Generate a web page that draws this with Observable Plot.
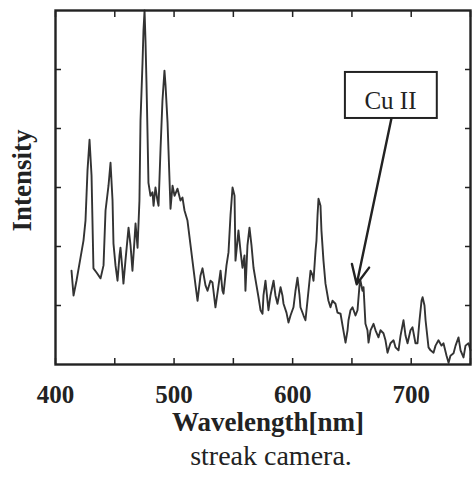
<!DOCTYPE html>
<html><head><meta charset="utf-8">
<script src="https://cdn.jsdelivr.net/npm/d3@7"></script>
<script src="https://cdn.jsdelivr.net/npm/@observablehq/plot@0.6"></script>
<style>
body{margin:0;background:#fff;}
#cap{font-family:"Liberation Serif","Times New Roman",serif;font-size:28px;line-height:28px;color:#222;text-align:center;width:474px;position:relative;left:34px;margin-top:2px;}
</style></head><body><div id="chart"></div><div id="cap">streak camera.</div>
<script>
const wavelength = [413.5,415.2,417.7,421.1,423.6,425.3,427.0,428.7,430.4,432.0,434.6,438.0,440.5,442.2,444.7,446.4,448.1,448.9,450.6,452.3,454.0,454.8,456.5,457.3,459.0,461.6,463.3,464.9,466.6,467.5,469.2,470.8,471.7,473.4,474.2,475.1,475.9,476.7,477.6,478.4,480.1,481.8,482.7,484.3,486.0,486.9,488.6,490.2,491.9,492.8,494.5,495.3,497.0,498.7,500.4,502.9,505.4,507.1,508.8,511.3,513.9,515.5,518.1,519.8,522.3,524.0,526.5,528.2,530.7,532.4,534.9,537.5,539.2,540.8,541.7,544.2,545.9,547.6,549.3,551.0,551.8,553.5,554.3,556.0,557.7,559.4,560.2,561.9,563.6,565.3,567.0,569.5,571.2,572.9,574.6,575.4,577.1,578.8,579.6,581.3,583.9,585.5,587.2,589.8,591.4,592.3,594.8,596.5,598.2,600.7,602.4,604.1,605.8,606.6,609.2,610.8,612.5,615.1,616.8,617.6,619.3,620.1,621.0,621.8,623.5,624.3,626.0,627.7,630.2,631.9,633.6,636.1,637.8,640.4,642.1,644.6,646.3,647.1,648.8,650.5,653.0,654.7,656.4,657.2,658.9,659.8,661.4,663.1,664.0,665.7,668.2,669.9,672.4,674.1,676.6,678.3,680.0,682.5,685.1,686.8,689.3,691.0,693.5,695.2,696.9,699.4,701.1,703.6,705.3,707.0,708.7,709.6,711.2,712.1,714.6,716.3,718.8,720.5,723.0,725.5,727.2,729.8,731.5,733.1,735.7,737.4,739.9,741.6,744.1,745.8,748.3,750.0];
const intensity = [1.59,1.17,1.42,1.81,2.10,2.44,3.29,3.81,3.20,1.63,1.56,1.46,1.68,2.61,3.03,3.42,2.78,2.05,1.68,1.42,1.85,1.98,1.59,1.37,1.76,2.32,2.02,1.59,2.10,2.39,1.98,2.78,4.14,5.12,5.66,6.0,5.49,4.81,3.93,3.08,2.86,2.92,2.69,3.00,2.78,2.69,3.66,4.47,4.98,4.73,4.10,3.63,2.64,3.03,2.86,2.98,2.78,2.83,2.61,2.44,2.02,1.76,1.34,1.08,1.51,1.63,1.34,1.25,1.42,1.39,0.97,1.34,1.59,1.25,1.20,1.68,1.90,2.53,3.00,2.86,1.76,2.10,2.27,1.93,1.64,1.85,1.25,2.02,2.32,2.02,1.64,1.34,1.14,0.92,0.86,1.17,1.42,1.08,0.92,1.17,1.42,1.17,1.03,1.31,1.17,1.03,0.88,0.71,0.83,0.97,1.25,1.47,1.17,0.97,0.83,0.75,1.08,1.59,1.51,1.42,1.93,2.10,2.53,2.81,2.69,2.27,1.76,1.37,1.08,0.97,1.08,1.03,0.88,0.86,0.66,0.37,0.58,0.75,0.92,0.97,0.83,0.92,1.34,1.42,1.25,1.31,0.69,0.58,0.37,0.58,0.69,0.58,0.46,0.58,0.53,0.41,0.20,0.36,0.41,0.29,0.24,0.49,0.75,0.49,0.36,0.58,0.63,0.36,0.36,0.75,1.08,1.14,1.00,0.75,0.29,0.24,0.20,0.32,0.41,0.32,0.36,0.15,0.03,0.15,0.19,0.32,0.46,0.24,0.12,0.32,0.36,0.24];
const xDomain = [400, 750];
const yDomain = [0, 6];
const xTickLabels = [400, 500, 600, 700];
const xTicks = [400, 450, 500, 550, 600, 650, 700, 750];
const yTicks = [1, 2, 3, 4, 5];
const xLabel = "Wavelength[nm]";
const yLabel = "Intensity";
const caption = "streak camera.";
const noteText = "Cu II";
const noteAt = [682.5, 4.47];
const noteBoxX = [644.5, 722];
const noteBoxY = [4.17, 4.95];
const arrowFrom = [683.3, 4.17];
const arrowTo = [654, 1.36];

const data = wavelength.map((w, i) => ({w, v: intensity[i]}));
const serif = "'Liberation Serif','Times New Roman',serif";
const ink = "#222";

const plot = Plot.plot({
  width: 474, height: 440,
  marginLeft: 55, marginRight: 4, marginTop: 10, marginBottom: 76,
  x: {domain: xDomain, label: null},
  y: {domain: yDomain, label: null},
  marks: [
    Plot.line(data, {x: "w", y: "v", stroke: "#333", strokeWidth: 1.9, curve: "linear"}),
    Plot.axisX(xTicks, {anchor: "bottom", tickSize: -6, tickFormat: () => "", stroke: ink, strokeWidth: 1.5, label: null}),
    Plot.axisX(xTicks, {anchor: "top", tickSize: -6, tickFormat: () => "", stroke: ink, strokeWidth: 1.5, label: null}),
    Plot.axisX(xTickLabels, {anchor: "bottom", tickSize: 0, tickPadding: 21, fontSize: 25, fontWeight: "bold", fontFamily: serif, fill: ink, label: null}),
    Plot.axisY(yTicks, {anchor: "left", tickSize: -6, tickFormat: () => "", stroke: ink, strokeWidth: 1.5, label: null}),
    Plot.axisY(yTicks, {anchor: "right", tickSize: -6, tickFormat: () => "", stroke: ink, strokeWidth: 1.5, label: null}),
    Plot.frame({stroke: ink, strokeWidth: 2.4}),
    Plot.rect([{x1: noteBoxX[0], x2: noteBoxX[1], y1: noteBoxY[0], y2: noteBoxY[1]}], {x1: "x1", x2: "x2", y1: "y1", y2: "y2", fill: "white", stroke: ink, strokeWidth: 2}),
    Plot.text([noteText], {x: noteAt[0], y: noteAt[1], text: d => d, fontSize: 25, fontFamily: serif, fill: ink}),
    Plot.arrow([{x1: arrowFrom[0], y1: arrowFrom[1], x2: arrowTo[0], y2: arrowTo[1]}], {x1: "x1", y1: "y1", x2: "x2", y2: "y2", stroke: ink, strokeWidth: 2.4, headLength: 13, headAngle: 50}),
    Plot.text([yLabel], {frameAnchor: "left", textAnchor: "middle", lineAnchor: "middle", text: d => d, rotate: -90, dx: -33, dy: -7, fontSize: 27, fontWeight: "bold", fontFamily: serif, fill: ink}),
    Plot.text([xLabel], {frameAnchor: "bottom", textAnchor: "middle", lineAnchor: "middle", text: d => d, dx: 5, dy: 58, fontSize: 27, fontWeight: "bold", fontFamily: serif, fill: ink})
  ]
});
document.getElementById("chart").appendChild(plot);
document.getElementById("cap").textContent = caption;
</script></body></html>
